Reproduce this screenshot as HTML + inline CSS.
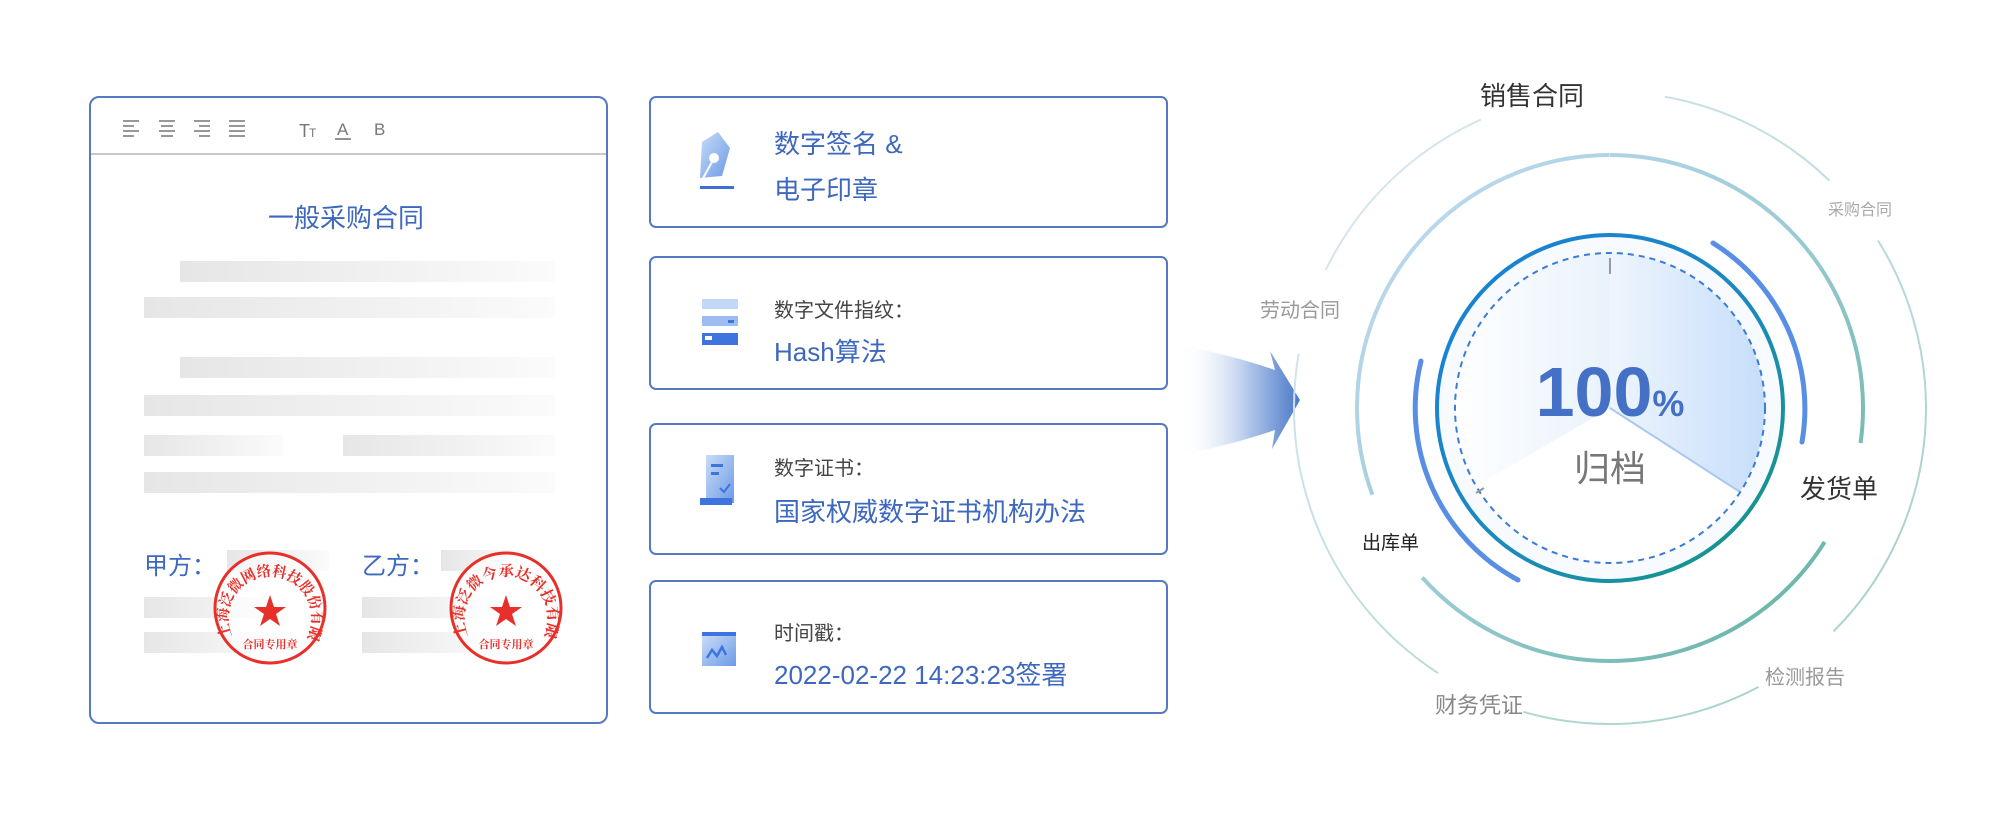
<!DOCTYPE html>
<html><head><meta charset="utf-8"><style>
body{margin:0;width:2000px;height:829px;background:#fff;position:relative;overflow:hidden;font-family:"Liberation Sans","Noto Sans CJK SC",sans-serif}
.abs{position:absolute;white-space:nowrap}
.box{position:absolute;border:2px solid #5679c4;border-radius:7px;box-sizing:border-box;background:#fff}
.bar{position:absolute;height:21px;background:linear-gradient(90deg,#e6e6e6,#f2f2f2 60%,#fbfbfb)}
.blue{color:#3d68be}
.gray{color:#444}
</style></head><body>

<!-- contract -->
<div class="box" style="left:89px;top:96px;width:519px;height:628px;border-radius:10px"></div>
<div class="abs" style="left:91px;top:153px;width:515px;height:2px;background:#c8c8c8"></div>
<svg class="abs" style="left:115px;top:115px" width="300" height="28">
 <g stroke="#777" stroke-width="1.6">
  <path d="M8 6h16M8 11h11M8 16h16M8 21h11"/>
  <path d="M44 6h16M46 11h12M44 16h16M46 21h12"/>
  <path d="M79 6h16M84 11h11M79 16h16M84 21h11"/>
  <path d="M114 6h16M114 11h16M114 16h16M114 21h16"/>
 </g>
 <text x="184" y="22" font-size="18" fill="#777" font-family="Liberation Sans">T</text>
 <text x="194" y="22" font-size="12" fill="#777" font-family="Liberation Sans">T</text>
 <text x="222" y="20" font-size="17" fill="#777" font-family="Liberation Sans">A</text>
 <path d="M220 24h16" stroke="#777" stroke-width="1.6"/>
 <text x="259" y="20" font-size="17" fill="#777" font-family="Liberation Sans">B</text>
</svg>
<div class="abs blue" style="left:268px;top:198px;font-size:26px">一般采购合同</div>
<div class="bar" style="left:180px;top:261px;width:375px"></div>
<div class="bar" style="left:144px;top:297px;width:411px"></div>
<div class="bar" style="left:180px;top:357px;width:375px"></div>
<div class="bar" style="left:144px;top:395px;width:411px"></div>
<div class="bar" style="left:144px;top:435px;width:139px"></div>
<div class="bar" style="left:343px;top:435px;width:212px"></div>
<div class="bar" style="left:144px;top:472px;width:411px"></div>
<div class="abs blue" style="left:144px;top:546px;font-size:24px">甲方：</div>
<div class="abs blue" style="left:362px;top:546px;font-size:24px">乙方：</div>
<div class="bar" style="left:227px;top:550px;width:102px"></div>
<div class="bar" style="left:441px;top:550px;width:80px"></div>
<div class="bar" style="left:144px;top:597px;width:130px"></div>
<div class="bar" style="left:144px;top:632px;width:130px"></div>
<div class="bar" style="left:362px;top:597px;width:130px"></div>
<div class="bar" style="left:362px;top:632px;width:130px"></div>
<svg class="abs" style="left:0;top:0" width="620" height="729">
 <defs>
  <path id="s1" d="M232 636 A42 42 0 1 1 308 636"/>
  <path id="s2" d="M468 636 A42 42 0 1 1 544 636"/>
 </defs>
 <g fill="#fff" fill-opacity="0.6" stroke="#e8302a" stroke-width="3">
  <circle cx="270" cy="608" r="55"/><circle cx="506" cy="608" r="55"/>
 </g>
 <g fill="#e8302a" font-family="Liberation Serif,'Noto Serif CJK SC',serif" font-weight="bold">
  <text font-size="15" textLength="200" lengthAdjust="spacingAndGlyphs"><textPath href="#s1">上海泛微网络科技股份有限公司</textPath></text>
  <text font-size="15" textLength="200" lengthAdjust="spacingAndGlyphs"><textPath href="#s2">上海泛微今承达科技有限公司</textPath></text>
  <text x="270" y="648" font-size="11" text-anchor="middle">合同专用章</text>
  <text x="506" y="648" font-size="11" text-anchor="middle">合同专用章</text>
  <polygon transform="translate(270,612)" points="0,-17 4,-5 16,-5 6,2 10,14 0,7 -10,14 -6,2 -16,-5 -4,-5"/>
  <polygon transform="translate(506,612)" points="0,-17 4,-5 16,-5 6,2 10,14 0,7 -10,14 -6,2 -16,-5 -4,-5"/>
 </g>
</svg>

<!-- cards -->
<div class="box" style="left:649px;top:96px;width:519px;height:132px"></div>
<div class="box" style="left:649px;top:256px;width:519px;height:134px"></div>
<div class="box" style="left:649px;top:423px;width:519px;height:132px"></div>
<div class="box" style="left:649px;top:580px;width:519px;height:134px"></div>
<div class="abs blue" style="left:774px;top:124px;font-size:26px">数字签名 &amp;</div>
<div class="abs blue" style="left:774px;top:170px;font-size:26px">电子印章</div>
<div class="abs gray" style="left:774px;top:294px;font-size:20px">数字文件指纹：</div>
<div class="abs blue" style="left:774px;top:332px;font-size:26px">Hash算法</div>
<div class="abs gray" style="left:774px;top:452px;font-size:20px">数字证书：</div>
<div class="abs blue" style="left:774px;top:492px;font-size:26px">国家权威数字证书机构办法</div>
<div class="abs gray" style="left:774px;top:617px;font-size:20px">时间戳：</div>
<div class="abs blue" style="left:774px;top:655px;font-size:26px">2022-02-22 14:23:23签署</div>
<svg class="abs" style="left:680px;top:120px" width="70" height="600">
 <defs><linearGradient id="ig" x1="0" y1="0" x2="1" y2="1"><stop offset="0" stop-color="#c9dcf7"/><stop offset="1" stop-color="#6b9ae6"/></linearGradient></defs>
 <path d="M22 22 L38 12 L50 28 L42 56 L20 58 Z" fill="url(#ig)"/>
 <circle cx="34" cy="38" r="5" fill="#fff"/><path d="M32 42 L22 60" stroke="#fff" stroke-width="2"/>
 <rect x="20" y="66" width="34" height="3" fill="#3d6fd6"/>
 <rect x="22" y="179" width="36" height="10" fill="#c4d8f6"/>
 <rect x="22" y="196" width="36" height="10" fill="#9dbdf0"/>
 <rect x="22" y="213" width="36" height="12" fill="#3d74e0"/>
 <rect x="25" y="216" width="7" height="4" fill="#fff"/><rect x="48" y="200" width="6" height="3" fill="#3d74e0"/>
 <rect x="26" y="335" width="28" height="48" fill="url(#ig)"/>
 <rect x="31" y="344" width="12" height="3" fill="#3d74e0"/><rect x="31" y="352" width="8" height="3" fill="#3d74e0"/>
 <path d="M40 368l4 4 6-8" stroke="#3d74e0" stroke-width="2" fill="none"/>
 <rect x="20" y="378" width="32" height="7" fill="#3d74e0"/>
 <rect x="22" y="512" width="34" height="4" fill="#3d74e0"/>
 <rect x="22" y="516" width="34" height="30" fill="url(#ig)"/>
 <path d="M27 538 l5-8 5 6 5-9 4 8" stroke="#3d74e0" stroke-width="2.5" fill="none"/>
</svg>

<!-- arrow -->
<svg class="abs" style="left:1150px;top:330px" width="160" height="130">
 <defs><linearGradient id="ag" x1="0" y1="0" x2="1" y2="0"><stop offset="0" stop-color="#fff" stop-opacity="0"/><stop offset="0.55" stop-color="#b6cbec"/><stop offset="1" stop-color="#4a78c8"/></linearGradient></defs>
 <path d="M30 15 C80 25 110 35 125 40 L120 21 L150 70 L122 119 L125 100 C110 105 80 115 30 125 Z" fill="url(#ag)"/>
</svg>

<!-- rings -->
<svg class="abs" style="left:0;top:0" width="2000" height="829">
 <defs>
  <linearGradient id="r2" x1="1" y1="0" x2="0" y2="1"><stop offset="0" stop-color="#c4dcf5"/><stop offset="0.5" stop-color="#9ccbd6"/><stop offset="1" stop-color="#5bb09a"/></linearGradient>
  <linearGradient id="r3" x1="1" y1="0" x2="0" y2="1"><stop offset="0" stop-color="#dde9f6"/><stop offset="1" stop-color="#9fd0c4"/></linearGradient>
  <linearGradient id="r1" x1="0" y1="0" x2="1" y2="1"><stop offset="0" stop-color="#1a7fdc"/><stop offset="0.6" stop-color="#1b8bb8"/><stop offset="1" stop-color="#14987a"/></linearGradient>
  <linearGradient id="sec" x1="1610" y1="0" x2="1765" y2="0" gradientUnits="userSpaceOnUse"><stop offset="0" stop-color="#eef5fd"/><stop offset="1" stop-color="#c6defa"/></linearGradient>
  <linearGradient id="sec2" x1="1455" y1="0" x2="1610" y2="0" gradientUnits="userSpaceOnUse"><stop offset="0" stop-color="#fff"/><stop offset="1" stop-color="#e9f2fc"/></linearGradient>
 </defs>
 <circle cx="1610" cy="408" r="316" fill="none" stroke="url(#r3)" stroke-width="2" pathLength="360" stroke-dasharray="0 10 34 14 77 17 44 17 67 16 40 24" transform="rotate(-90 1610 408)"/>
 <circle cx="1610" cy="408" r="253" fill="none" stroke="url(#r2)" stroke-width="4" pathLength="360" stroke-dasharray="98 24 106 22 110" transform="rotate(-90 1610 408)"/>
 <path d="M1713 243 A195 195 0 0 1 1802 442" fill="none" stroke="#3b7be0" stroke-width="5" stroke-linecap="round" opacity="0.85"/>
 <path d="M1518 580 A195 195 0 0 1 1421 361" fill="none" stroke="#3b7be0" stroke-width="5" stroke-linecap="round" opacity="0.85"/>
 <circle cx="1610" cy="408" r="171" fill="#f7fafe"/>
 <circle cx="1610" cy="408" r="155" fill="#fff"/>
 <path d="M1610 408 L1476 486 A155 155 0 0 1 1610 253 Z" fill="url(#sec2)"/>
 <path d="M1610 408 L1610 253 A155 155 0 0 1 1740 492 Z" fill="url(#sec)"/>
 <path d="M1610 408 L1740 492" stroke="#a9c8ef" stroke-width="2"/>
 <circle cx="1610" cy="408" r="173" fill="none" stroke="url(#r1)" stroke-width="4"/>
 <circle cx="1610" cy="408" r="155" fill="none" stroke="#3a7bd5" stroke-width="2" stroke-dasharray="6 5"/>
 <path d="M1610 258v16M1484 488l-8 5" stroke="#999" stroke-width="2"/>
</svg>
<div class="abs" style="left:1610px;top:352px;transform:translateX(-50%);font-weight:bold;color:#4471c5;font-size:70px;line-height:80px">100<span style="font-size:36px">%</span></div>
<div class="abs" style="left:1574px;top:440px;font-size:36px;color:#777">归档</div>
<div class="abs" style="left:1480px;top:76px;font-size:26px;color:#333">销售合同</div>
<div class="abs" style="left:1828px;top:196px;font-size:16px;color:#aaa">采购合同</div>
<div class="abs" style="left:1260px;top:294px;font-size:20px;color:#999">劳动合同</div>
<div class="abs" style="left:1800px;top:469px;font-size:26px;color:#333">发货单</div>
<div class="abs" style="left:1362px;top:528px;font-size:19px;color:#222">出库单</div>
<div class="abs" style="left:1765px;top:661px;font-size:20px;color:#999">检测报告</div>
<div class="abs" style="left:1435px;top:688px;font-size:22px;color:#888">财务凭证</div>
</body></html>
